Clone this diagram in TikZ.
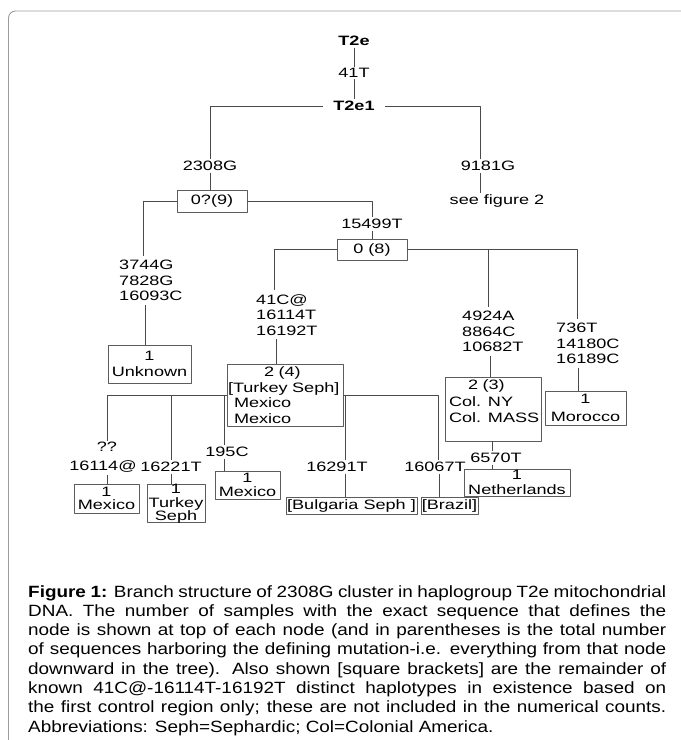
\documentclass[tikz,border=0pt]{standalone}
\usepackage{fontspec}
\setmainfont{Liberation Sans}
\newfontfamily\treefam[FakeStretch=1.33]{Liberation Sans}
\newfontfamily\capfam[FakeStretch=1.16]{Liberation Sans}
\newcommand{\treefont}{\treefam\fontsize{13.6}{15.5}\selectfont}
\newcommand{\capfont}{\capfam\fontsize{16.3}{19.3}\selectfont}
\definecolor{framegray}{HTML}{9C9C9C}
\definecolor{linegray}{HTML}{4A4A4A}
\definecolor{boxgray}{HTML}{5C5C5C}

\begin{document}
\begin{tikzpicture}[x=1pt, y=-1pt, line join=round,
  edge/.style={draw=linegray, line width=0.8pt},
  lab/.style={font=\treefont, inner sep=1.5pt},
  lablist/.style={font=\treefont, inner xsep=0pt, inner ysep=4pt, align=left, anchor=north west},
  leaf/.style={draw=boxgray, line width=0.8pt, font=\treefont, inner sep=0pt, align=center}]
  \useasboundingbox (0,0) rectangle (681,740);

  % page frame (cut off at the right and bottom)
  \draw[framegray, line width=0.9pt, rounded corners=7pt] (8.5,740) -- (8.5,11) -- (681,11);

  % root and first split
  \node[lab, font=\treefont\bfseries] (T2e) at (354,41) {T2e};
  \node[lab] (l41T) at (354,73) {41T};
  \node[lab, font=\treefont\bfseries, inner xsep=10pt] (T2e1) at (354,106) {T2e1};
  \node[lab] (l2308G) at (210,166) {2308G};
  \node[lab] (l9181G) at (488,166) {9181G};
  \node[lab] (lsee) at (497,201) {see figure 2};

  % 2308G cluster
  \node[leaf, minimum width=70pt, minimum height=22pt] (b09) at (212,201) {0?(9)};
  \node[lab] (l15499T) at (372,224) {15499T};
  \node[leaf, minimum width=70pt, minimum height=21pt] (b08) at (372,249.5) {0 (8)};

  % mutation lists on the branches
  \node[lablist] (l3744) at (119,256) {3744G\\7828G\\16093C};
  \node[lablist] (l41C) at (256,290) {41C@\\16114T\\16192T};
  \node[lablist] (l4924) at (462,307) {4924A\\8864C\\10682T};
  \node[lablist] (l736) at (556,319) {736T\\14180C\\16189C};

  % haplotype boxes, middle row
  \node[leaf, minimum width=83pt, minimum height=38pt] (bUnk) at (149.5,364) {1\\[0.5pt]Unknown};
  \node[leaf, align=left, text width=114pt, inner xsep=1pt, minimum height=62pt] (b24) at (285,395)
    {\hspace*{36pt}2 (4)\\{[}Turkey Seph]\\\hspace*{6pt}Mexico\\\hspace*{6pt}Mexico};
  \node[leaf, align=left, text width=94pt, inner xsep=1pt, minimum height=64pt] (b23) at (493,409)
    {\hspace*{22pt}2 (3)\\[1.5pt]\hspace*{3pt}Col. NY\\\hspace*{3pt}Col. MASS\\\mbox{}};
  \node[leaf, minimum width=81pt, minimum height=34pt] (bMor) at (585.5,408) {1\\[2.5pt]Morocco};

  % labels of the lowest branches
  \node[lab] (lqq) at (107,447) {??};
  \node[lab] (l16114) at (103,467) {16114@};
  \node[lab] (l16221T) at (171,467) {16221T};
  \node[lab] (l195C) at (227,452) {195C};
  \node[lab] (l16291T) at (337,467) {16291T};
  \node[lab] (l16067T) at (435,467) {16067T};
  \node[lab] (l6570T) at (496,458) {6570T};

  % haplotype boxes, bottom row
  \node[leaf, minimum width=65pt, minimum height=29pt] (bMex1) at (106.5,498.5) {1\\[-2pt]Mexico};
  \node[leaf, minimum width=58pt, minimum height=37pt] (bTur) at (176,503.5) {1\\[-2pt]Turkey\\[-2.5pt]Seph};
  \node[leaf, minimum width=65pt, minimum height=28pt] (bMex2) at (247.5,485) {1\\[-2pt]Mexico};
  \node[leaf, minimum width=131pt, minimum height=17pt] (bBul) at (351.5,505.5) {[Bulgaria Seph ]};
  \node[leaf, minimum width=57pt, minimum height=17pt] (bBra) at (449.5,505.5) {[Brazil]};
  \node[leaf, minimum width=106pt, minimum height=27pt] (bNet) at (517,482.5) {1\\Netherlands};

  % branches
  \draw[edge] (T2e) -- (l41T);
  \draw[edge] (l41T) -- (T2e1);
  \draw[edge] (T2e1.west) -| (l2308G.north);
  \draw[edge] (T2e1.east) -| ([xshift=-8pt]l9181G.north);
  \draw[edge] ([xshift=-8pt]l9181G.south) -- ([xshift=-8pt]l9181G.south |- lsee.north);
  \draw[edge] (l2308G.south) -- (l2308G.south |- b09.north);
  \draw[edge] (b09.west) -| ([xshift=24pt]l3744.north west);
  \draw[edge] ([xshift=26pt]l3744.south west) -- ([xshift=26pt]l3744.south west |- bUnk.north);
  \draw[edge] (b09.east) -| (l15499T.north);
  \draw[edge] (l15499T) -- (b08);
  \draw[edge] (b08.west) -| ([xshift=18pt]l41C.north west);
  \draw[edge] ([xshift=20pt]l41C.south west) -- ([xshift=20pt]l41C.south west |- b24.north);
  \draw[edge] (b08.east) -| ([xshift=21pt]l736.north west);
  \draw[edge] ([xshift=26pt]l4924.north west |- b08.east) -- ([xshift=26pt]l4924.north west);
  \draw[edge] ([xshift=28pt]l4924.south west) -- ([xshift=28pt]l4924.south west |- b23.north);
  \draw[edge] ([xshift=22pt]l736.south west) -- ([xshift=22pt]l736.south west |- bMor.north);

  % branches below 2 (4)
  \draw[edge] (b24.west) -| (lqq.north);
  \draw[edge] (l16221T.north |- b24.west) -- (l16221T.north);
  \draw[edge] ([xshift=-3pt]l195C.north |- b24.west) -- ([xshift=-3pt]l195C.north);
  \draw[edge] (lqq.south |- l16114.south) -- (lqq.south |- bMex1.north);
  \draw[edge] (l16221T.south) -- (l16221T.south |- bTur.north);
  \draw[edge] ([xshift=-3pt]l195C.south) -- ([xshift=-3pt]l195C.south |- bMex2.north);
  \draw[edge] (b24.east) -| ([xshift=3pt]l16067T.north);
  \draw[edge] ([xshift=8pt]l16291T.north |- b24.east) -- ([xshift=8pt]l16291T.north);
  \draw[edge] ([xshift=8pt]l16291T.south) -- ([xshift=8pt]l16291T.south |- bBul.north);
  \draw[edge] ([xshift=4pt]l16067T.south) -- ([xshift=4pt]l16067T.south |- bBra.north);

  % branch below 2 (3)
  \draw[edge] ([xshift=-1pt]b23.south) -- ([xshift=-1pt]b23.south |- l6570T.north);
  \draw[edge] ([xshift=-4pt]l6570T.south) -- ([xshift=-4pt]l6570T.south |- bNet.north);

  % caption
  \node[font=\capfont, anchor=north west, inner sep=0pt, align=left] (cap) at (28,585) {%
    \makebox[638pt][s]{\textbf{Figure 1:} Branch structure of 2308G cluster in haplogroup T2e mitochondrial}\\
    \makebox[638pt][s]{DNA. The number of samples with the exact sequence that defines the}\\
    \makebox[638pt][s]{node is shown at top of each node (and in parentheses is the total number}\\
    \makebox[638pt][s]{of sequences harboring the defining mutation-i.e. everything from that node}\\
    \makebox[638pt][s]{downward in the tree). Also shown [square brackets] are the remainder of}\\
    \makebox[638pt][s]{known 41C@-16114T-16192T distinct haplotypes in existence based on}\\
    \makebox[638pt][s]{the first control region only; these are not included in the numerical counts.}\\
    Abbreviations: Seph=Sephardic; Col=Colonial America.};
\end{tikzpicture}
\end{document}
